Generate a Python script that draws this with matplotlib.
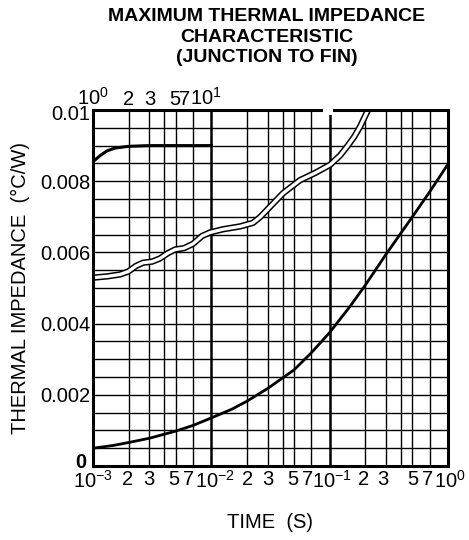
import matplotlib
matplotlib.use("Agg")
import matplotlib.pyplot as plt
import matplotlib.transforms as mtransforms
from matplotlib.patches import Rectangle
import numpy as np

plt.rcParams["font.family"] = ["Liberation Sans", "DejaVu Sans"]
plt.rcParams["mathtext.fontset"] = "custom"
plt.rcParams["mathtext.rm"] = "Liberation Sans"
plt.rcParams["mathtext.it"] = "Liberation Sans:italic"
plt.rcParams["mathtext.bf"] = "Liberation Sans:bold"

# lower curve, bottom time axis (s)
bot_t = [1e-3, 1.5e-3, 2e-3, 3e-3, 5e-3, 7e-3, 1e-2, 1.5e-2, 2e-2, 3e-2,
         5e-2, 7e-2, 0.1, 0.15, 0.2, 0.3, 0.5, 0.7, 1.0]
bot_z = [0.0005, 0.00058, 0.00066, 0.00078, 0.00098, 0.00114, 0.00135, 0.0016,
         0.00182, 0.00218, 0.0027, 0.00318, 0.00375, 0.0045, 0.00508, 0.00595,
         0.007, 0.0077, 0.00848]

# double-line curve, bottom time axis (s)
dbl_t = [1e-3, 1.34e-3, 1.69e-3, 1.98e-3, 2.31e-3, 2.65e-3, 3.15e-3, 3.68e-3,
         4.3e-3, 4.93e-3, 5.88e-3, 7.0e-3, 8.34e-3, 9.75e-3, 1.255e-2, 1.75e-2,
         2.25e-2, 2.58e-2, 3.13e-2, 4.03e-2, 5.62e-2, 7.52e-2, 0.1007, 0.1223,
         0.1402, 0.1606, 0.1805, 0.2109, 0.2213]
dbl_z = [0.00529, 0.00533, 0.00538, 0.00546, 0.00562, 0.00571, 0.00574, 0.00583,
         0.00598, 0.00608, 0.00612, 0.00624, 0.00646, 0.00656, 0.00665, 0.00673,
         0.00683, 0.00699, 0.00728, 0.00766, 0.00803, 0.00823, 0.00846, 0.00872,
         0.00897, 0.00924, 0.00953, 0.01, 0.01017]

# upper curve, top time axis (s)
top_t = [1, 1.15, 1.31, 1.53, 2, 3, 10]
top_z = [0.00855, 0.00872, 0.00885, 0.00893, 0.00898, 0.009, 0.009]

decades = [1e-3, 1e-2, 1e-1, 1e0]
dec_labels = [r"$\mathregular{10^{-3}}$", r"$\mathregular{10^{-2}}$",
              r"$\mathregular{10^{-1}}$", r"$\mathregular{10^{0}}$"]
grid_mult = [2, 3, 4, 5, 7]
label_mult = [2, 3, 5, 7]
y_ticks = [0, 0.002, 0.004, 0.006, 0.008, 0.01]
y_labels = ["0", "0.002", "0.004", "0.006", "0.008", "0.01"]
top_ticks = [1, 2, 3, 5, 7, 10]
top_labels = [r"$\mathregular{10^{0}}$", "2", "3", "5", "7", r"$\mathregular{10^{1}}$"]

# small nudges of the printed tick labels (pixels)
bot_nudge = [0, -1, -1, -2, -4, 4, 1, 0, -1, -4, 2, -2, -3, 0, -2, 2]
top_nudge = [0, 0, 0, -1, -8, -5]
y_nudge = [(-4, 6), (0, 0), (0, 0), (0, 0), (0, 0), (0, -2)]


def nudge(label, dx, dy):
    label.set_transform(label.get_transform() +
                        mtransforms.ScaledTranslation(dx / 100, dy / 100, fig.dpi_scale_trans))


fig = plt.figure(figsize=(4.69, 5.4), dpi=100)
ax = fig.add_axes([93 / 469, 74 / 540, 355 / 469, 356 / 540])
ax.set_xscale("log")
ax.set_xlim(1e-3, 1)
ax.set_ylim(0, 0.01)

# grid
for d in decades[:-1]:
    ax.axvline(d, color="black", lw=1.8, zorder=1)
    for m in grid_mult:
        ax.axvline(d * m, color="black", lw=1.0, zorder=1)
for yv in np.arange(0, 0.01001, 0.0005):
    ax.axhline(yv, color="black", lw=1.0, zorder=1)

# curves
ax.plot(bot_t, bot_z, color="black", lw=2.0, zorder=3)
ax.plot(dbl_t, dbl_z, color="black", lw=4.6, zorder=3, solid_capstyle="butt")
ax.plot(dbl_t, dbl_z, color="white", lw=2.4, zorder=4, solid_capstyle="butt")

# x ticks
xt, xl = [], []
for d, lab in zip(decades, dec_labels):
    xt.append(d)
    xl.append(lab)
    if d < 1:
        for m in label_mult:
            xt.append(d * m)
            xl.append(str(m))
ax.set_xticks(xt)
ax.set_xticklabels(xl)
ax.xaxis.set_minor_locator(matplotlib.ticker.NullLocator())
ax.set_yticks(y_ticks)
ax.set_yticklabels(y_labels)
ax.tick_params(axis="both", length=0, labelsize=14.5, pad=2)
ax.tick_params(axis="x", pad=3)
ax.get_yticklabels()[0].set_fontweight("bold")
for lab, dx in zip(ax.get_xticklabels(), bot_nudge):
    nudge(lab, dx, 0)
for lab, (dx, dy) in zip(ax.get_yticklabels(), y_nudge):
    nudge(lab, dx, dy)

for s in ax.spines.values():
    s.set_linewidth(2.2)
    s.set_zorder(6)

# top axis
ax2 = ax.twiny()
ax2.set_xscale("log")
ax2.set_xlim(1, 1000)
ax2.plot(top_t, top_z, color="black", lw=2.2, zorder=3)
ax2.set_xticks(top_ticks)
ax2.set_xticklabels(top_labels)
ax2.xaxis.set_minor_locator(matplotlib.ticker.NullLocator())
ax2.tick_params(axis="x", length=0, labelsize=14.5, pad=1)
for lab, dx in zip(ax2.get_xticklabels(), top_nudge):
    nudge(lab, dx, 0)
for s in ax2.spines.values():
    s.set_visible(False)

# small break in the top frame
trans = mtransforms.blended_transform_factory(ax.transData, ax.transAxes)
ax.add_patch(Rectangle((0.088, 0.985), 0.107 - 0.088, 0.03, transform=trans,
                       facecolor="white", edgecolor="none", zorder=10, clip_on=False))

fig.text(267 / 469, 1 - 37 / 540,
         "MAXIMUM THERMAL IMPEDANCE\nCHARACTERISTIC\n(JUNCTION TO FIN)",
         ha="center", va="center", fontsize=14, fontweight="bold", linespacing=1.3)
fig.text(20 / 469, 1 - 288 / 540, "THERMAL IMPEDANCE  (°C/W)", rotation=90,
         ha="center", va="center", fontsize=14.5)
fig.text(270 / 469, 1 - 523 / 540, "TIME  (S)", ha="center", va="center",
         fontsize=14.5)

fig.savefig("out.png", dpi=100)
